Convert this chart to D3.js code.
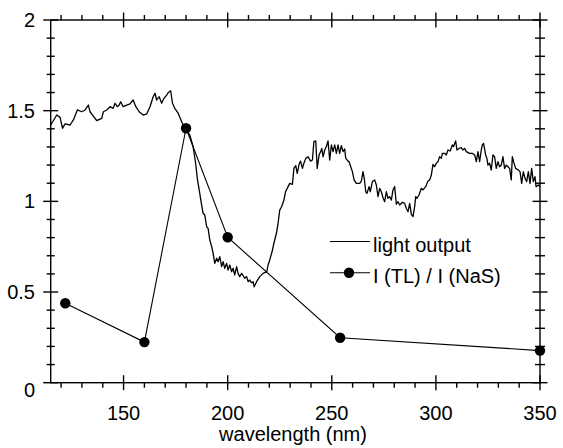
<!DOCTYPE html>
<html>
<head>
<meta charset="utf-8">
<script src="https://cdn.jsdelivr.net/npm/d3@7"></script>
<style>
  html, body { margin: 0; padding: 0; background: #fff; }
  svg { display: block; }
  text { font-family: "Liberation Sans", Arial, sans-serif; fill: #000; }
</style>
</head>
<body>
<div id="chart"></div>
<script>
// ---------- DATA ----------
const lightWavelength = [
  115.0,117.9,119.5,120.7,121.9,124.3,125.9,127.8,129.9,131.5,133.1,133.9,137.1,139.5,140.3,141.9,
  143.5,145.0,145.9,147.0,147.9,148.6,149.8,151.5,153.1,154.6,155.9,157.5,159.4,161.1,162.7,164.2,
  165.1,165.9,167.1,168.3,169.4,170.7,171.4,172.6,173.5,174.6,176.2,177.9,179.4,
  181.8,183.4,184.6,185.5,186.2,187.1,188.2,189.0,189.9,190.6,191.4,192.3,193.0,193.8,194.7,195.4,
  196.2,197.1,197.8,198.6,199.5,200.2,201.0,201.9,202.6,203.4,204.3,205.0,205.8,206.7,208.2,209.1,
  209.8,210.6,211.5,212.2,212.7,213.9,215.4,217.0,218.8,219.4,220.2,221.3,222.2,223.4,224.2,225.0,
  225.9,227.0,227.8,229.0,
  229.8,231.1,231.8,232.7,233.4,234.3,235.0,235.9,236.6,237.5,238.6,239.8,240.7,241.4,242.3,243.0,
  243.9,244.6,245.2,245.8,246.6,247.4,248.2,249.0,249.8,250.6,251.4,252.2,253.0,253.8,254.6,255.4,
  256.2,256.7,257.8,258.3,259.1,259.9,260.7,261.8,263.4,264.2,265.0,265.7,266.3,266.9,267.9,268.5,
  269.5,270.6,271.4,272.2,273.0,273.8,274.6,275.4,276.2,277.0,277.8,278.6,279.4,280.2,281.0,281.8,
  282.6,283.9,285.0,285.8,286.6,287.4,288.2,289.0,289.8,290.3,290.9,291.9,293.0,293.8,295.1,296.2,
  297.0,297.8,298.6,299.4,300.2,301.0,301.8,302.6,303.1,304.2,305.0,305.8,306.9,307.9,308.5,309.5,
  310.1,311.1,312.2,313.0,313.8,314.6,316.2,317.5,318.6,319.4,320.2,321.0,321.8,322.3,322.9,323.9,
  324.5,325.0,325.8,326.6,327.4,328.2,329.0,329.8,330.6,331.4,332.2,333.0,333.8,334.6,335.4,336.2,
  336.7,337.3,338.3,339.6,340.4,341.2,342.0,342.8,343.6,344.4,345.2,346.0,346.8,347.6,348.1,349.2,350.0
];
const lightOutput = [
  1.421,1.476,1.463,1.403,1.427,1.421,1.449,1.504,1.494,1.504,1.531,1.494,1.445,1.458,1.494,1.504,
  1.522,1.513,1.541,1.522,1.531,1.549,1.522,1.531,1.537,1.559,1.522,1.494,1.476,1.482,1.522,1.577,
  1.596,1.559,1.577,1.541,1.568,1.586,1.599,1.610,1.541,1.513,1.486,1.439,1.403,
  1.366,1.301,1.210,1.118,1.072,1.007,0.934,0.925,0.860,0.851,0.787,0.750,0.714,0.658,0.686,0.667,
  0.695,0.640,0.667,0.631,0.658,0.621,0.649,0.612,0.631,0.594,0.640,0.603,0.585,0.603,0.576,0.585,
  0.557,0.566,0.551,0.557,0.529,0.557,0.585,0.603,0.612,0.649,0.677,0.722,0.769,0.824,0.879,0.952,
  0.970,1.007,1.053,1.081,
  1.099,1.094,1.182,1.197,1.154,1.204,1.222,1.182,1.210,1.237,1.246,1.222,1.228,1.329,1.333,1.182,
  1.256,1.274,1.292,1.246,1.283,1.302,1.333,1.228,1.311,1.274,1.311,1.265,1.311,1.265,1.307,1.274,
  1.289,1.237,1.222,1.219,1.191,1.164,1.118,1.099,1.099,1.112,1.164,1.118,1.053,1.044,1.081,1.053,
  1.109,1.118,1.090,1.026,1.072,1.053,1.020,0.998,1.053,1.017,1.026,1.007,1.063,1.081,0.984,0.998,
  0.980,0.995,0.989,0.961,0.943,0.989,0.928,0.916,0.971,1.026,1.017,1.035,1.072,1.063,1.081,1.112,
  1.118,1.145,1.204,1.191,1.210,1.219,1.246,1.237,1.265,1.265,1.256,1.283,1.278,1.311,1.302,1.333,
  1.283,1.292,1.296,1.283,1.292,1.274,1.265,1.265,1.256,1.219,1.274,1.219,1.283,1.311,1.320,1.256,
  1.237,1.200,1.210,1.173,1.256,1.246,1.182,1.219,1.191,1.200,1.246,1.182,1.200,1.191,1.182,1.118,
  1.246,1.219,1.182,1.173,1.164,1.099,1.164,1.127,1.109,1.164,1.099,1.182,1.109,1.136,1.081,1.090,1.081
];
const ratioWavelength = [122, 160, 180, 200, 254, 350];
const ratioValue = [0.438, 0.224, 1.403, 0.802, 0.248, 0.177];

const xMajorTicks = [150, 200, 250, 300, 350];
const xTickLabels = ["150", "200", "250", "300", "350"];
const yMajorTicks = [0, 0.5, 1, 1.5, 2];
const yTickLabels = ["0", "0.5", "1", "1.5", "2"];
const legendLabels = ["light output", "I (TL) / I (NaS)"];
const xTitle = "wavelength (nm)";

// ---------- LAYOUT ----------
const W = 563, H = 448;
const pLeft = 50.7, pRight = 540, pTop = 20, pBottom = 382.7;
const x = d3.scaleLinear().domain([115, 350]).range([pLeft, pRight]);
const y = d3.scaleLinear().domain([0, 2]).range([pBottom, pTop]);

const svg = d3.select("#chart").append("svg").attr("width", W).attr("height", H);

const fontSize = 20;

// frame
const axisW = 1.4;
svg.append("rect").attr("x", pLeft).attr("y", pTop).attr("width", pRight - pLeft).attr("height", pBottom - pTop)
  .attr("fill", "none").attr("stroke", "#000").attr("stroke-width", axisW);

const g = svg.append("g").attr("stroke", "#000").attr("stroke-width", axisW);
// x ticks
const xMinor = d3.range(120, 351, 10).filter(v => !xMajorTicks.includes(v));
xMinor.forEach(v => {
  g.append("line").attr("x1", x(v)).attr("x2", x(v)).attr("y1", pBottom).attr("y2", pBottom + 5);
  g.append("line").attr("x1", x(v)).attr("x2", x(v)).attr("y1", pTop).attr("y2", pTop - 5);
});
xMajorTicks.forEach(v => {
  g.append("line").attr("x1", x(v)).attr("x2", x(v)).attr("y1", pBottom - 7.5).attr("y2", pBottom + 7.5);
  g.append("line").attr("x1", x(v)).attr("x2", x(v)).attr("y1", pTop - 7.5).attr("y2", pTop + 7.5);
});
// y ticks
const yMinor = d3.range(1, 20).map(i => i / 10).filter(v => !yMajorTicks.some(m => Math.abs(m - v) < 1e-9));
yMinor.forEach(v => {
  g.append("line").attr("x1", pLeft - 4).attr("x2", pLeft + 4).attr("y1", y(v)).attr("y2", y(v));
  g.append("line").attr("x1", pRight - 5).attr("x2", pRight + 5).attr("y1", y(v)).attr("y2", y(v));
});
yMajorTicks.forEach(v => {
  g.append("line").attr("x1", pLeft - 7.5).attr("x2", pLeft + 7.5).attr("y1", y(v)).attr("y2", y(v));
  g.append("line").attr("x1", pRight - 7.5).attr("x2", pRight + 7.5).attr("y1", y(v)).attr("y2", y(v));
});

// tick labels
xMajorTicks.forEach((v, i) => {
  svg.append("text").attr("x", x(v)).attr("y", 420).attr("text-anchor", "middle")
    .attr("font-size", fontSize).text(xTickLabels[i]);
});
yMajorTicks.forEach((v, i) => {
  svg.append("text").attr("x", 35).attr("y", y(v) + (v === 0 ? 7 : 0)).attr("dy", "0.35em")
    .attr("text-anchor", "end").attr("font-size", fontSize).text(yTickLabels[i]);
});
svg.append("text").attr("x", 293).attr("y", 441).attr("text-anchor", "middle")
  .attr("font-size", fontSize).text(xTitle);

// light output line
const lightData = lightWavelength.map((w, i) => [w, lightOutput[i]]);
svg.append("path").datum(lightData)
  .attr("fill", "none").attr("stroke", "#000").attr("stroke-width", 1.3).attr("stroke-linejoin", "round")
  .attr("d", d3.line().x(d => x(d[0])).y(d => y(d[1])));

// ratio line + markers
const ratioData = ratioWavelength.map((w, i) => [w, ratioValue[i]]);
svg.append("path").datum(ratioData)
  .attr("fill", "none").attr("stroke", "#000").attr("stroke-width", 1.1)
  .attr("d", d3.line().x(d => x(d[0])).y(d => y(d[1])));
svg.selectAll("circle.pt").data(ratioData).enter().append("circle").attr("class", "pt")
  .attr("cx", d => x(d[0])).attr("cy", d => y(d[1])).attr("r", 5.2).attr("fill", "#000");

// legend
const lg = svg.append("g");
lg.append("line").attr("x1", 330).attr("x2", 370).attr("y1", 241.5).attr("y2", 241.5)
  .attr("stroke", "#000").attr("stroke-width", 1.1);
lg.append("text").attr("x", 373).attr("y", 251.5).attr("font-size", fontSize).text(legendLabels[0]);
lg.append("line").attr("x1", 330).attr("x2", 370).attr("y1", 272.7).attr("y2", 272.7)
  .attr("stroke", "#000").attr("stroke-width", 1.1);
lg.append("circle").attr("cx", 349).attr("cy", 272.7).attr("r", 5.2).attr("fill", "#000");
lg.append("text").attr("x", 373).attr("y", 282.7).attr("font-size", fontSize).text(legendLabels[1]);
</script>
</body>
</html>
